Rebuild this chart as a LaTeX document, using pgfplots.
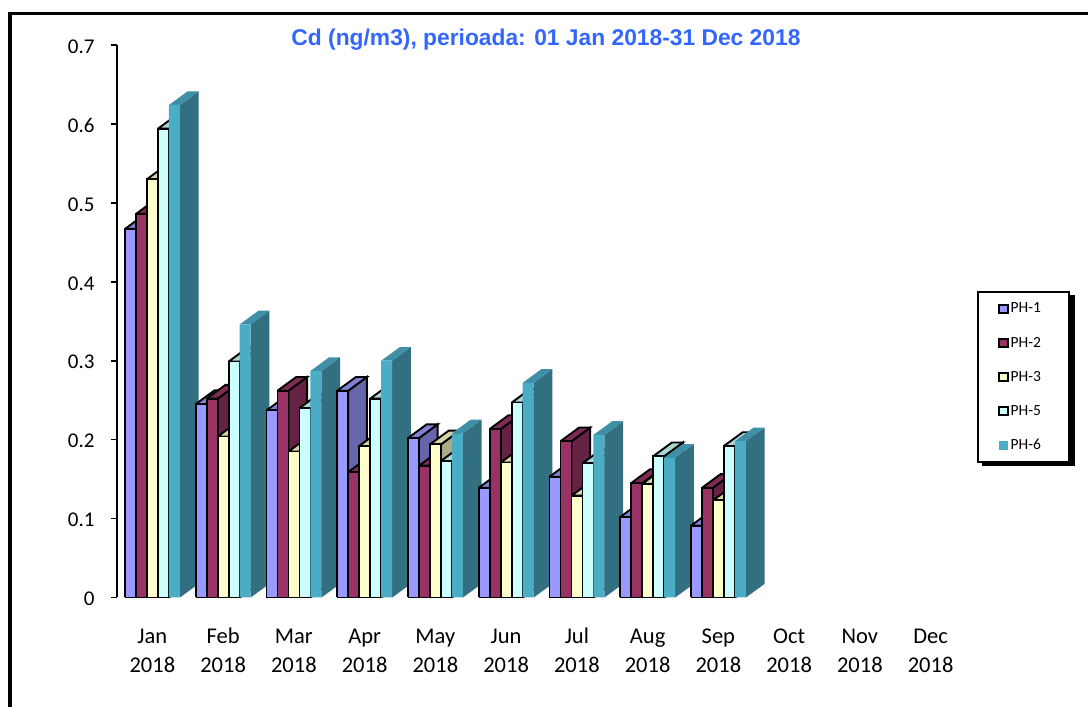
\documentclass[border=0pt]{standalone}
\usepackage{fontspec}
\setmainfont{Carlito}
\newfontfamily\titlefont{Liberation Sans}
\usepackage{pgfplots}
\pgfplotsset{compat=1.18}
\definecolor{aF}{HTML}{9999FF}\definecolor{aT}{HTML}{8080D5}\definecolor{aS}{HTML}{6666AA}
\definecolor{bF}{HTML}{993366}\definecolor{bT}{HTML}{802B55}\definecolor{bS}{HTML}{662244}
\definecolor{cF}{HTML}{FFFFCC}\definecolor{cT}{HTML}{D5D5AA}\definecolor{cS}{HTML}{AAAA88}
\definecolor{dF}{HTML}{CCFFFF}\definecolor{dT}{HTML}{AAD5D5}\definecolor{dS}{HTML}{88AAAA}
\definecolor{eF}{HTML}{4BACC6}\definecolor{eT}{HTML}{3F90A6}\definecolor{eS}{HTML}{326F80}
\tikzset{ol/.style={draw=black,line width=1.9pt,line join=miter},nol/.style={draw=none}}
% month index, series index, value, colour prefix, outline style
\newcommand{\threedbar}[5]{%
  \pgfmathsetmacro\xa{#1+0.113+#2*0.1554}%
  \pgfmathsetmacro\xb{\xa+0.1554}%
  \pgfmathsetmacro\xc{\xa+0.264}%
  \pgfmathsetmacro\xd{\xb+0.264}%
  \pgfmathsetmacro\yt{#3+0.01736}%
  \addplot[forget plot,fill=#4S,#5] coordinates {(\xb,0)(\xd,0.01736)(\xd,\yt)(\xb,#3)(\xb,0)};
  \addplot[forget plot,fill=#4T,#5] coordinates {(\xa,#3)(\xc,\yt)(\xd,\yt)(\xb,#3)(\xa,#3)};
  \addplot[forget plot,fill=#4F,#5] coordinates {(\xa,0)(\xa,#3)(\xb,#3)(\xb,0)(\xa,0)};
}
% month index, then PH-1, PH-2, PH-3, PH-5, PH-6
\newcommand{\monthbars}[6]{%
  \threedbar{#1}{0}{#2}{a}{ol}\threedbar{#1}{1}{#3}{b}{ol}\threedbar{#1}{2}{#4}{c}{ol}%
  \threedbar{#1}{3}{#5}{d}{ol}\threedbar{#1}{4}{#6}{e}{nol}%
}
\newcommand{\lgpad}{\rule{26pt}{0pt}}
\begin{document}
\begin{tikzpicture}[x=1pt,y=1pt]
\path[use as bounding box] (0,0) rectangle (1088,707);
\fill[black] (7.5,0) rectangle (12,695);
\fill[black] (7.5,691.7) rectangle (1088,695);
\fill[black] (982,240.5) rectangle (1075,412);
\begin{axis}[
  at={(117pt,109.5pt)},anchor=origin,
  scale only axis,width=849pt,height=552.5pt,
  xmin=0,xmax=12,ymin=0,ymax=0.7,
  clip=false,
  axis y line=left,axis x line=bottom,
  axis line style={-},
  x axis line style={draw=none},
  y axis line style={line width=1.6pt},
  ytick={0,0.1,0.2,0.3,0.4,0.5,0.6,0.7},
  xtick={0.5,1.5,2.5,3.5,4.5,5.5,6.5,7.5,8.5,9.5,10.5,11.5},
  xticklabels={{\strut Jan\\\strut 2018},{\strut Feb\\\strut 2018},{\strut Mar\\\strut 2018},{\strut Apr\\\strut 2018},{\strut May\\\strut 2018},{\strut Jun\\\strut 2018},{\strut Jul\\\strut 2018},{\strut Aug\\\strut 2018},{\strut Sep\\\strut 2018},{\strut Oct\\\strut 2018},{\strut Nov\\\strut 2018},{\strut Dec\\\strut 2018}},
  xtick style={draw=none},
  ytick style={line width=1.6pt,black},
  tick align=outside,
  major tick length=6pt,
  x tick label style={align=center,font=\fontsize{22.5}{29}\selectfont,yshift=-16pt},
  y tick label style={font=\fontsize{21}{24}\selectfont,xshift=-13pt,yshift=-1.5pt},
  /pgf/number format/.cd,fixed,precision=1,assume math mode=true,
  /pgfplots/.cd,
  title={\titlefont\bfseries\fontsize{22.8}{26}\selectfont\textcolor[HTML]{3366FF}{Cd (ng/m3), perioada: 01 Jan 2018-31 Dec 2018}},
  title style={at={(0.5053,0.9985)},anchor=center,inner sep=0pt},
  legend image code/.code={\path[draw=none,fill=none] (-21.5pt,0pt) -- (0pt,0pt);\draw[#1] (0pt,-4pt) rectangle (8.5pt,4pt);},
  legend style={at={(1.0126,0.5548)},anchor=north west,fill=white,draw=black,line width=2pt,
    font=\fontsize{15.5}{18}\selectfont,inner xsep=0pt,inner ysep=10pt,
    /tikz/row sep=20.5pt,
    nodes={inner xsep=2pt,inner ysep=1pt,line width=0.4pt}},
  legend cell align=left,
]
\addlegendimage{fill=aF,draw=black,line width=1.8pt}\addlegendentry{PH-1\lgpad}
\addlegendimage{fill=bF,draw=black,line width=1.8pt}\addlegendentry{PH-2\lgpad}
\addlegendimage{fill=cF,draw=black,line width=1.8pt}\addlegendentry{PH-3\lgpad}
\addlegendimage{fill=dF,draw=black,line width=1.8pt}\addlegendentry{PH-5\lgpad}
\addlegendimage{fill=eF,draw=eF,line width=0.5pt}\addlegendentry{PH-6\lgpad}
\monthbars{0}{0.467}{0.486}{0.530}{0.594}{0.624}
\monthbars{1}{0.245}{0.252}{0.204}{0.299}{0.346}
\monthbars{2}{0.237}{0.262}{0.185}{0.240}{0.287}
\monthbars{3}{0.262}{0.159}{0.192}{0.252}{0.300}
\monthbars{4}{0.202}{0.167}{0.194}{0.173}{0.208}
\monthbars{5}{0.139}{0.2135}{0.171}{0.247}{0.272}
\monthbars{6}{0.153}{0.198}{0.129}{0.170}{0.206}
\monthbars{7}{0.102}{0.145}{0.144}{0.179}{0.177}
\monthbars{8}{0.091}{0.139}{0.123}{0.192}{0.198}
\end{axis}
\end{tikzpicture}
\end{document}
